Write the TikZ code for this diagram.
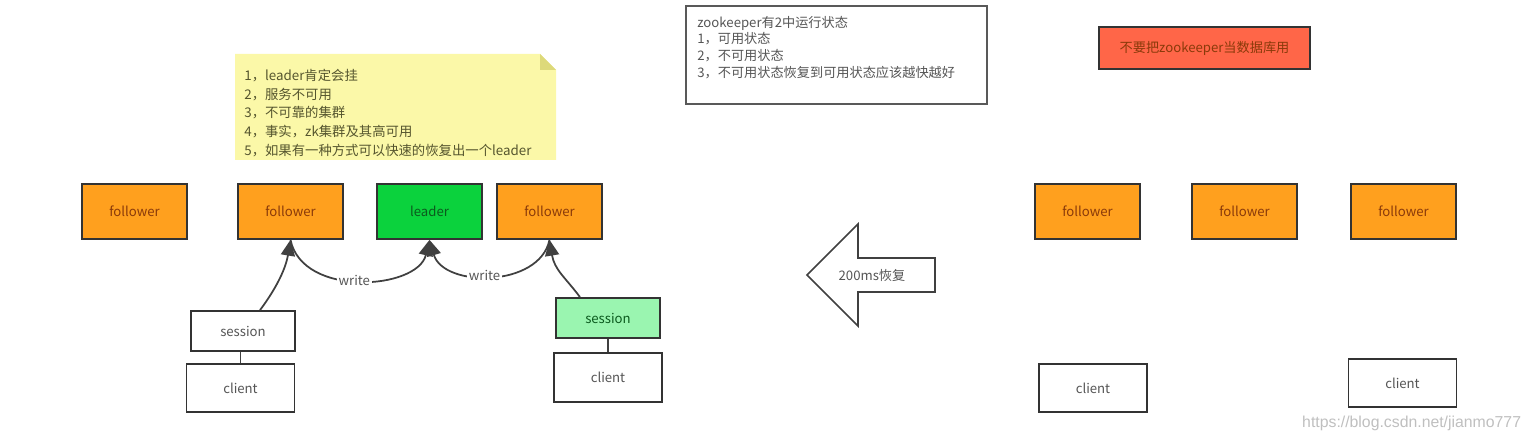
\documentclass[tikz,border=0pt]{standalone}
\usepackage{fontspec}
\setmainfont{Noto Sans CJK SC}
\newfontfamily\wmfont{Liberation Sans}
\usepackage{xcolor}
\usetikzlibrary{arrows.meta, positioning}

\definecolor{fworange}{HTML}{FFA01E}
\definecolor{fwtext}{HTML}{8A3A0A}
\definecolor{ldgreen}{HTML}{0BD23D}
\definecolor{ldtext}{HTML}{0B5A1E}
\definecolor{ssgreen}{HTML}{9AF5B0}
\definecolor{notefill}{HTML}{FBF8A8}
\definecolor{notefold}{HTML}{DDD97A}
\definecolor{notetext}{HTML}{55552E}
\definecolor{warnred}{HTML}{FF6648}
\definecolor{boxtext}{HTML}{555555}

\tikzset{
	box/.style={draw=black!80, line width=1pt, minimum width=2.1cm, minimum height=1.1cm,
		inner sep=0pt, font=\fontsize{7.5}{9}\selectfont},
	followerbox/.style={box, fill=fworange, text=fwtext},
	leaderbox/.style={box, fill=ldgreen, text=ldtext},
	sessionbox/.style={box, fill=white, text=boxtext, minimum width=2.08cm, minimum height=0.8cm},
	clientbox/.style={box, fill=white, text=boxtext, minimum width=2.16cm, minimum height=0.97cm},
	link/.style={draw=black!75, line width=1pt},
	writelink/.style={link, -{Triangle[width=8pt,length=9pt]}},
	writelabel/.style={fill=white, inner sep=1pt, text=boxtext, font=\fontsize{7.5}{9}\selectfont}
}

\begin{document}
\begin{tikzpicture}[x=0.02cm, y=-0.02cm]
		
		% Frame of the picture (pixel coordinates, y downward)
		\useasboundingbox (0,0) rectangle (1525,438);
		
		% Sticky note with folded corner
		\fill[notefill] (235,54) -- (540,54) -- (556,70) -- (556,160) -- (235,160) -- cycle;
		\fill[notefold] (540,54) -- (540,70) -- (556,70) -- cycle;
		\node[anchor=north west, align=left, text=notetext, inner sep=0pt,
			font=\fontsize{7.6}{10.6}\selectfont] (note) at (244,69)
			{1，leader肯定会挂\\2，服务不可用\\3，不可靠的集群\\4，事实，zk集群及其高可用\\5，如果有一种方式可以快速的恢复出一个leader};
		
		% Top text box (states)
		\draw[black!65, line width=0.9pt] (686,6) rectangle (987,104);
		\node[anchor=north west, align=left, text=boxtext, inner sep=0pt,
			font=\fontsize{7.5}{9.4}\selectfont] (states) at (697,16)
			{zookeeper有2中运行状态\\1，可用状态\\2，不可用状态\\3，不可用状态恢复到可用状态应该越快越好};
		
		% Warning box
		\node[box, fill=warnred, text=fwtext, minimum width=4.22cm, minimum height=0.84cm] (warn) at (1204.5,48)
			{不要把zookeeper当数据库用};
		
		% Left cluster
		\node[followerbox] (f1) at (134.5,211.5) {follower};
		\node[followerbox] (f2) at (290.5,211.5) {follower};
		\node[leaderbox]   (leader) at (429.5,211.5) {leader};
		\node[followerbox] (f3) at (549.5,211.5) {follower};
		
		% Sessions and clients
		\node[sessionbox] (s1) at (243,331) {session};
		\node[clientbox]  (c1) at (240.5,388) {client};
		\node[sessionbox, fill=ssgreen, text=ldtext] (s2) at (608,318) {session};
		\node[clientbox]  (c2) at (608,377.5) {client};
		
		% Connections
		\draw[link] (c1.north) -- (c1.north |- s1.south);
		\draw[link] (c2.north) -- (c2.north |- s2.south);
		\draw[writelink] ([xshift=0.34cm]s1.north) .. controls +(15,-20) and +(-5,30) .. (f2.south);
		\draw[writelink] ([xshift=-0.56cm]s2.north) .. controls +(-15,-20) and +(5,30) .. (f3.south);
		\draw[writelink] (f2.south) .. controls +(12,58) and +(-12,50) .. node[writelabel, pos=0.47] (w1) {write} (leader.south);
		\draw[writelink] (f3.south) .. controls +(-10,48) and +(14,48) .. node[writelabel, pos=0.54] (w2) {write} (leader.south);
		
		% Recovery arrow
		\draw[black!75, line width=0.9pt, fill=white] (807,275) -- (858,224) -- (858,258) -- (935,258)
			-- (935,292) -- (858,292) -- (858,326) -- cycle;
		\node[text=boxtext, font=\fontsize{7.5}{9}\selectfont] (recover) at (872,275) {200ms恢复};
		
		% Right cluster (after recovery)
		\node[followerbox] (rf1) at (1087.5,211.5) {follower};
		\node[followerbox] (rf2) at (1244.5,211.5) {follower};
		\node[followerbox] (rf3) at (1403.5,211.5) {follower};
		\node[clientbox]   (rc1) at (1093,388) {client};
		\node[clientbox]   (rc2) at (1402.5,383) {client};
		
		% Watermark
		\node[text=black!25, font=\wmfont\fontsize{9}{10}\selectfont, anchor=west] (mark) at (1296,423)
			{https://blog.csdn.net/jianmo777};
		
	\end{tikzpicture}
\end{document}
